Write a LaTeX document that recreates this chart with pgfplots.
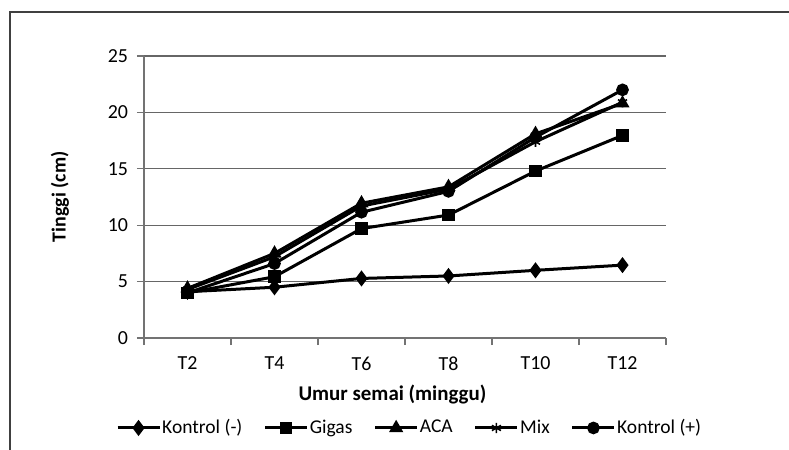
\documentclass[border=0pt]{standalone}
\usepackage{fontspec}
\setmainfont{Carlito}
\usepackage{pgfplots}
\pgfplotsset{compat=1.18}

\begin{document}
\begin{tikzpicture}[x=1bp,y=1bp]
\useasboundingbox (0,0) rectangle (394.5,225);
% outer chart frame (cut off right and bottom)
\draw[line width=1.1bp, black!75] (5,-5) -- (5,219) -- (400,219);
\begin{axis}[
    anchor=south west, at={(72bp,56bp)},
    width=261bp, height=141bp, scale only axis,
    font=\fontsize{10}{12}\selectfont,
    /pgf/number format/assume math mode=true,
    xmin=-0.5, xmax=5.5,
    ymin=0, ymax=25,
    ytick={0,5,...,25},
    xtick={0,...,5},
    xticklabels={T2,T4,T6,T8,T10,T12},
    minor xtick={-0.5,0.5,...,5.5},
    axis x line=bottom, axis y line=left,
    axis line style={black!55, line width=0.6bp, -},
    tick align=outside,
    major tick length=3.5bp, minor tick length=3.5bp,
    xtick style={draw=none},
    minor x tick style={draw=black!55, line width=0.6bp},
    ytick style={black!55, line width=0.6bp},
    ymajorgrids=true,
    grid style={black!60, line width=0.6bp},
    xticklabel style={yshift=-2.5bp},
    yticklabel style={xshift=-1bp},
    xlabel={\fontsize{10.5}{12}\selectfont\bfseries Umur semai (minggu)},
    ylabel={\fontsize{10}{12}\selectfont\bfseries Tinggi (cm)},
    xlabel style={at={(axis description cs:0.476,-0.202)}, anchor=center},
    ylabel style={at={(axis description cs:-0.161,0.5)}, anchor=center},
    clip=false,
    every axis plot/.append style={black, line width=1.5bp},
    legend columns=5,
    legend style={draw=none, fill=none, at={(axis description cs:0.508,-0.319)}, anchor=center,
        font=\fontsize{9.8}{11}\selectfont,
        nodes={inner sep=0.6bp},
        /tikz/every even column/.append style={column sep=10bp},
        inner sep=0pt},
    legend cell align=left,
    legend image code/.code={%
        \draw[#1, mark repeat=2, mark phase=2] plot coordinates {(0bp,0bp) (10.5bp,0bp) (21bp,0bp)};},
]
\addplot[mark=diamond*, mark size=2.8bp] coordinates {
    (0,4.1) (1,4.5) (2,5.28) (3,5.5) (4,6.0) (5,6.46)};
\addlegendentry{Kontrol (-)}
\addplot[mark=square*, mark size=2.4bp] coordinates {
    (0,4.0) (1,5.43) (2,9.7) (3,10.9) (4,14.8) (5,17.96)};
\addlegendentry{Gigas}
\addplot[mark=triangle*, mark size=2.6bp] coordinates {
    (0,4.4) (1,7.5) (2,11.95) (3,13.4) (4,18.1) (5,20.8)};
\addlegendentry{ACA}
\addplot[mark=asterisk, mark size=2.6bp, mark options={line width=0.8bp}] coordinates {
    (0,4.3) (1,7.2) (2,11.7) (3,13.2) (4,17.4) (5,20.9)};
\addlegendentry{Mix}
\addplot[mark=*, mark size=2.4bp] coordinates {
    (0,4.0) (1,6.6) (2,11.15) (3,13.0) (4,17.8) (5,22.0)};
\addlegendentry{Kontrol (+)}
\end{axis}
\end{tikzpicture}
\end{document}
